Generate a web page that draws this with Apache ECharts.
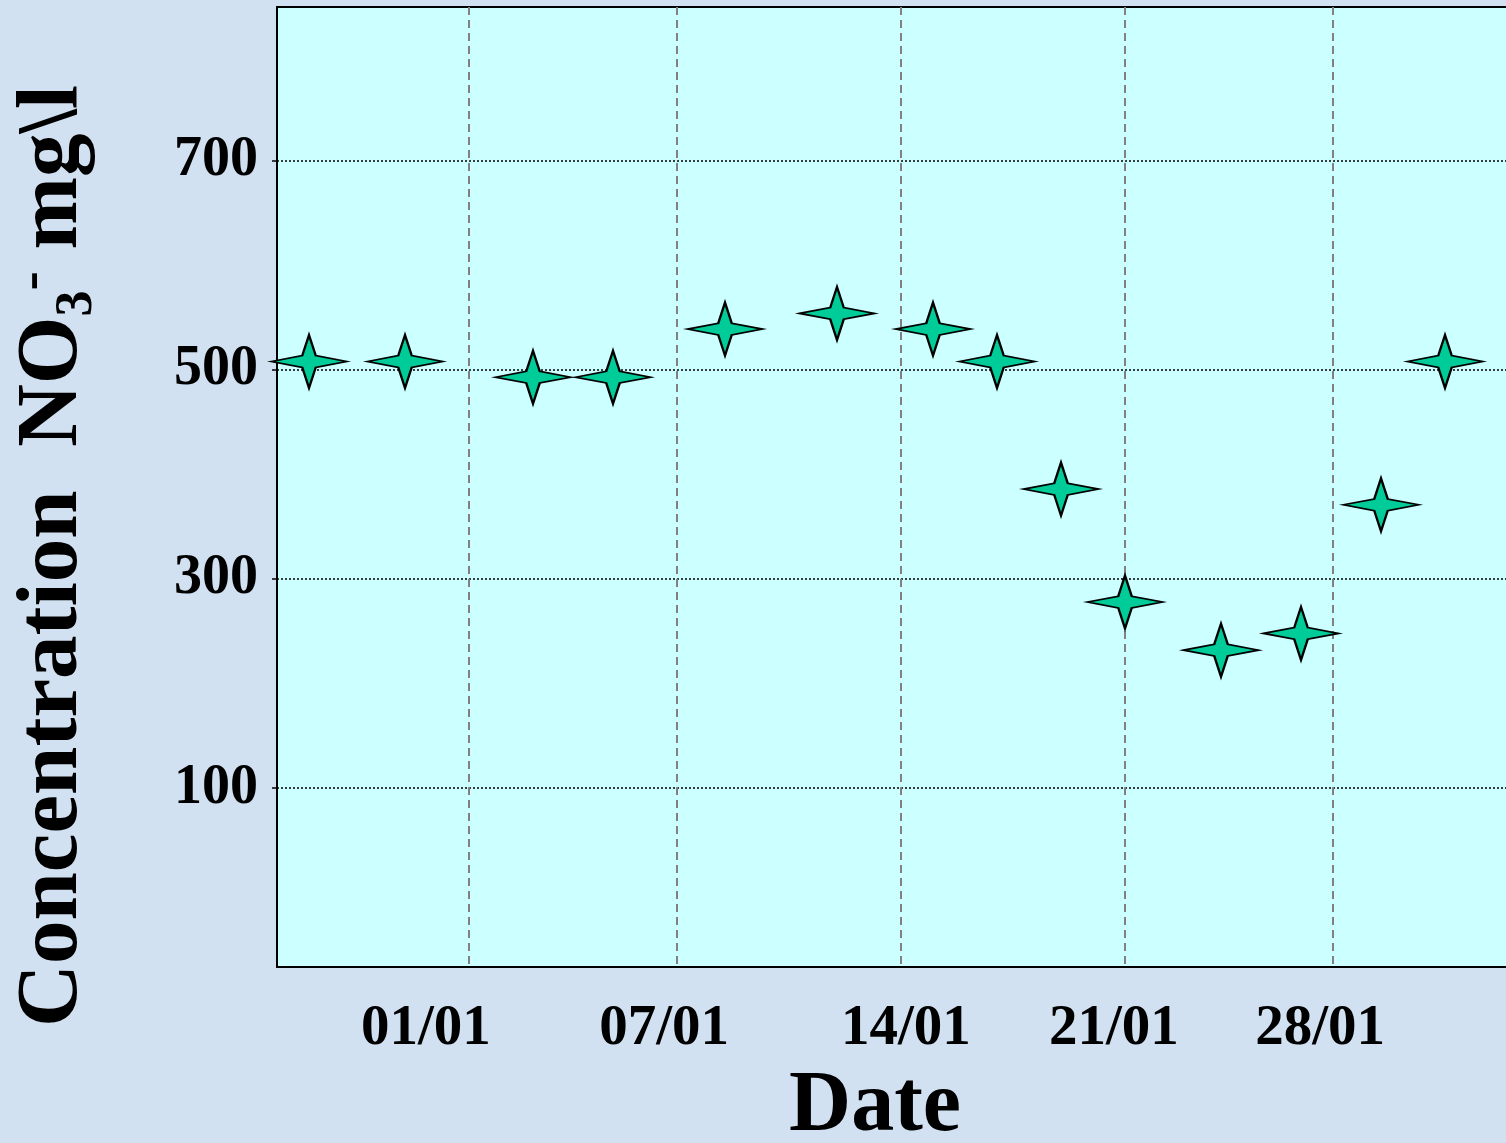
<!DOCTYPE html>
<html>
<head>
<meta charset="utf-8">
<script src="https://cdn.jsdelivr.net/npm/echarts@6/dist/echarts.min.js"></script>
<style>
html, body { margin: 0; padding: 0; background: #D2E1F2; overflow: hidden; width: 1506px; height: 1143px; }
#chart { width: 1541px; height: 1143px; }
</style>
</head>
<body>
<div id="chart"></div>
<script>
// ---- data ----
// sample dates, as day-of-January (negative = late December)
const sampleDays = [-4.5, -1.5, 2.5, 5, 8.5, 12, 15, 17, 19, 21, 24, 26.5, 29, 31];
// NO3- concentration, mg/l
const no3Values = [508, 508, 493, 493, 539, 554, 539, 508, 386, 278, 232, 248, 371, 508];
// date axis labels and where they sit
const dateLabels = ['01/01', '07/01', '14/01', '21/01', '28/01'];
const dateLabelDays = [-0.85, 6.6, 14.15, 20.65, 27.1];
// vertical grid lines
const dateGridDays = [0.5, 7, 14, 21, 27.5];
// concentration ticks
const yTickValues = [100, 300, 500, 700];

const FONT = '"Liberation Serif", "Times New Roman", serif';
const starPath = 'path://M0,50 L41,39 L50,0 L59,39 L100,50 L59,61 L50,100 L41,61 Z';

const chart = echarts.init(document.getElementById('chart'));
chart.setOption({
  animation: false,
  backgroundColor: '#D2E1F2',
  grid: {
    left: 277, top: 7, bottom: 176, right: 0,
    show: true, backgroundColor: '#CCFFFF', borderColor: '#000', borderWidth: 2
  },
  xAxis: {
    type: 'value',
    min: -5.5, max: 34,
    axisLine: { show: true, onZero: false, lineStyle: { color: '#000', width: 2 } },
    axisTick: { show: false, customValues: dateGridDays },
    splitLine: { show: true, lineStyle: { color: '#808080', width: 2, type: [8, 5] } },
    axisLabel: {
      customValues: dateLabelDays,
      formatter: function (v, i) {
        const k = dateLabelDays.indexOf(v);
        return dateLabels[k >= 0 ? k : i];
      },
      margin: 34,
      color: '#000', fontSize: 57, fontWeight: 'bold', fontFamily: FONT
    }
  },
  yAxis: {
    type: 'value',
    min: -71, max: 847,
    axisLine: { show: true, onZero: false, lineStyle: { color: '#000', width: 2 } },
    axisTick: { show: true, customValues: yTickValues, length: 5, lineStyle: { color: '#000', width: 1.5 } },
    splitLine: { show: true, lineStyle: { color: '#000', width: 1.5, type: [2, 2] } },
    axisLabel: {
      customValues: yTickValues,
      margin: 19,
      color: '#000', fontSize: 56, fontWeight: 'bold', fontFamily: FONT
    }
  },
  series: [{
    type: 'scatter',
    data: sampleDays.map((d, i) => [d, no3Values[i]]),
    symbol: starPath,
    symbolSize: [75, 53],
    itemStyle: { color: '#00CC99', borderColor: '#000', borderWidth: 2, opacity: 1 },
    clip: false
  }],
  graphic: [
    {
      type: 'text',
      x: 875, y: 1108,
      style: {
        text: 'Date',
        font: 'bold 86px ' + FONT,
        fill: '#000',
        align: 'center',
        verticalAlign: 'middle'
      }
    },
    {
      type: 'text',
      x: 4, y: 556,
      rotation: Math.PI / 2,
      style: {
        text: '{m|Concentration  NO}{sub|3}{sup|-}{m| mg\\l}',
        align: 'center',
        verticalAlign: 'top',
        fill: '#000',
        rich: {
          m: { fontSize: 87, fontWeight: 'bold', fontFamily: FONT, fill: '#000', lineHeight: 100, verticalAlign: 'middle' },
          sub: { fontSize: 52, fontWeight: 'bold', fontFamily: FONT, fill: '#000', lineHeight: 43, verticalAlign: 'bottom' },
          sup: { fontSize: 58, fontWeight: 'bold', fontFamily: FONT, fill: '#000', lineHeight: 65, verticalAlign: 'top' }
        }
      }
    }
  ]
});
</script>
</body>
</html>
